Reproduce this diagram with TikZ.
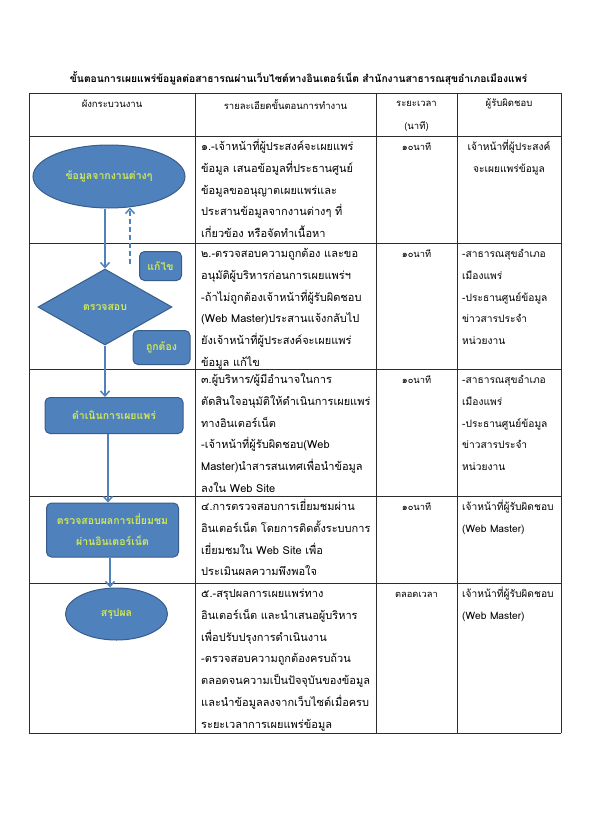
\documentclass[tikz,border=0pt]{standalone}
\usepackage{fontspec}
\setmainfont[Script=Thai]{Loma}
\usetikzlibrary{shapes.geometric,arrows.meta}
\definecolor{fblue}{RGB}{79,129,189}
\definecolor{eblue}{RGB}{56,93,138}
\definecolor{ytext}{RGB}{210,232,80}
\definecolor{gridc}{RGB}{45,45,45}
\begin{document}
\begin{tikzpicture}[x=1pt,y=-1pt,
  grid/.style={draw=gridc,line width=0.9pt},
  cell/.style={anchor=north west,inner sep=0pt,align=left,font=\fontsize{11}{21.7}\selectfont},
  pcell/.style={anchor=north west,inner sep=0pt,align=left,font=\fontsize{10.2}{21.7}\selectfont},
  ccell/.style={anchor=north,inner sep=0pt,align=center,font=\fontsize{10.2}{21.7}\selectfont},
  tcell/.style={anchor=north,inner sep=0pt,align=center,font=\fontsize{9.3}{21.7}\selectfont},
  head/.style={inner sep=0pt,font=\fontsize{9.5}{12}\selectfont},
  flow/.style={fill=fblue,draw=eblue,line width=1pt,text=ytext,inner sep=0pt,align=center,font=\bfseries\fontsize{10.5}{21}\selectfont},
  oval/.style={flow,ellipse},
  rbox/.style={flow,rectangle,rounded corners=5pt},
  dia/.style={flow,diamond},
  arr/.style={draw=fblue,line width=2pt,-{Straight Barb[length=5pt,width=9pt,line width=1.5pt]}}
]
\useasboundingbox (0,0) rectangle (594,840);
\fill[white] (0,0) rectangle (594,840);

% title
\node[inner sep=0pt,font=\bfseries\fontsize{10.3}{12}\selectfont] (title) at (298.5,78) {ขั้นตอนการเผยแพร่ข้อมูลต่อสาธารณผ่านเว็บไซต์ทางอินเตอร์เน็ต สำนักงานสาธารณสุขอำเภอเมืองแพร่};

% table grid
\foreach \yy in {93,136,243,369,496,583,733} \draw[grid] (29,\yy) -- (561,\yy);
\foreach \xx in {29,195,376,457,561} \draw[grid] (\xx,93) -- (\xx,733);

% header
\node[head] (h1) at (112,104) {ผังกระบวนงาน};
\node[head] (h2) at (285.5,104) {รายละเอียดขั้นตอนการทำงาน};
\node[head] (h3) at (416.5,104) {ระยะเวลา};
\node[head] (h3b) at (416.5,126) {(นาที)};
\node[head] (h4) at (509,104) {ผู้รับผิดชอบ};

% row 1
\node[cell] (r1d) at (201,135.5) {\strut ๑.-เจ้าหน้าที่ผู้ประสงค์จะเผยแพร่\\ข้อมูล เสนอข้อมูลที่ประธานศูนย์\\ข้อมูลขออนุญาตเผยแพร่และ\\ประสานข้อมูลจากงานต่างๆ ที่\\เกี่ยวข้อง หรือจัดทำเนื้อหา};
\node[tcell] (r1t) at (416.5,135.5) {\strut ๑๐นาที};
\node[ccell] (r1p) at (509,135.5) {\strut เจ้าหน้าที่ผู้ประสงค์\\จะเผยแพร่ข้อมูล};

% row 2
\node[cell] (r2d) at (201,242.5) {\strut ๒.-ตรวจสอบความถูกต้อง และขอ\\อนุมัติผู้บริหารก่อนการเผยแพร่ฯ\\-ถ้าไม่ถูกต้องเจ้าหน้าที่ผู้รับผิดชอบ\\(Web Master)ประสานแจ้งกลับไป\\ยังเจ้าหน้าที่ผู้ประสงค์จะเผยแพร่\\ข้อมูล แก้ไข};
\node[tcell] (r2t) at (416.5,242.5) {\strut ๑๐นาที};
\node[pcell] (r2p) at (462,242.5) {\strut -สาธารณสุขอำเภอ\\เมืองแพร่\\-ประธานศูนย์ข้อมูล\\ข่าวสารประจำ\\หน่วยงาน};

% row 3
\node[cell] (r3d) at (201,368.5) {\strut ๓.ผู้บริหาร/ผู้มีอำนาจในการ\\ตัดสินใจอนุมัติให้ดำเนินการเผยแพร่\\ทางอินเตอร์เน็ต\\-เจ้าหน้าที่ผู้รับผิดชอบ(Web\\Master)นำสารสนเทศเพื่อนำข้อมูล\\ลงใน Web Site};
\node[tcell] (r3t) at (416.5,368.5) {\strut ๑๐นาที};
\node[pcell] (r3p) at (462,368.5) {\strut -สาธารณสุขอำเภอ\\เมืองแพร่\\-ประธานศูนย์ข้อมูล\\ข่าวสารประจำ\\หน่วยงาน};

% row 4
\node[cell] (r4d) at (201,495.5) {\strut ๔.การตรวจสอบการเยี่ยมชมผ่าน\\อินเตอร์เน็ต โดยการติดตั้งระบบการ\\เยี่ยมชมใน Web Site เพื่อ\\ประเมินผลความพึงพอใจ};
\node[tcell] (r4t) at (416.5,495.5) {\strut ๑๐นาที};
\node[pcell] (r4p) at (462,495.5) {\strut เจ้าหน้าที่ผู้รับผิดชอบ\\(Web Master)};

% row 5
\node[cell] (r5d) at (201,582.5) {\strut ๕.-สรุปผลการเผยแพร่ทาง\\อินเตอร์เน็ต และนำเสนอผู้บริหาร\\เพื่อปรับปรุงการดำเนินงาน\\-ตรวจสอบความถูกต้องครบถ้วน\\ตลอดจนความเป็นปัจจุบันของข้อมูล\\และนำข้อมูลลงจากเว็บไซต์เมื่อครบ\\ระยะเวลาการเผยแพร่ข้อมูล};
\node[tcell] (r5t) at (416.5,582.5) {\strut ตลอดเวลา};
\node[pcell] (r5p) at (462,582.5) {\strut เจ้าหน้าที่ผู้รับผิดชอบ\\(Web Master)};

% flowchart
\node[oval,minimum width=152pt,minimum height=63pt] (e1) at (109,176.5) {ข้อมูลจากงานต่างๆ};
\node[dia,minimum width=134pt,minimum height=76pt] (d1) at (105,307) {ตรวจสอบ};
\node[rbox,minimum width=42pt,minimum height=29pt] (fix) at (160.5,266) {แก้ไข};
\node[rbox,minimum width=57pt,minimum height=34pt] (ok) at (161.5,347.5) {ถูกต้อง};
\node[rbox,minimum width=138pt,minimum height=36pt] (b1) at (114,415.5) {ดำเนินการเผยแพร่};
\node[rbox,minimum width=132pt,minimum height=54pt] (b2) at (112.5,530) {ตรวจสอบผลการเยี่ยมชม\\ผ่านอินเตอร์เน็ต};
\node[oval,minimum width=102pt,minimum height=52pt] (e2) at (116.5,614) {สรุปผล};

\coordinate (dstart) at (130,264);
\draw[arr] (d1.north |- e1.south) -- (d1.north);
\draw[arr,dashed,dash pattern=on 5pt off 3pt] (dstart) -- ([yshift=1pt]dstart |- e1.south);
\draw[arr] (d1.south) -- (d1.south |- b1.north);
\draw[arr] ([xshift=-6pt]b1.south) -- ([xshift=-6pt]b1.south |- b2.north);
\draw[arr] ([xshift=-2.5pt]b2.south) -- ([xshift=-2.5pt]b2.south |- e2.north);
\end{tikzpicture}
\end{document}
